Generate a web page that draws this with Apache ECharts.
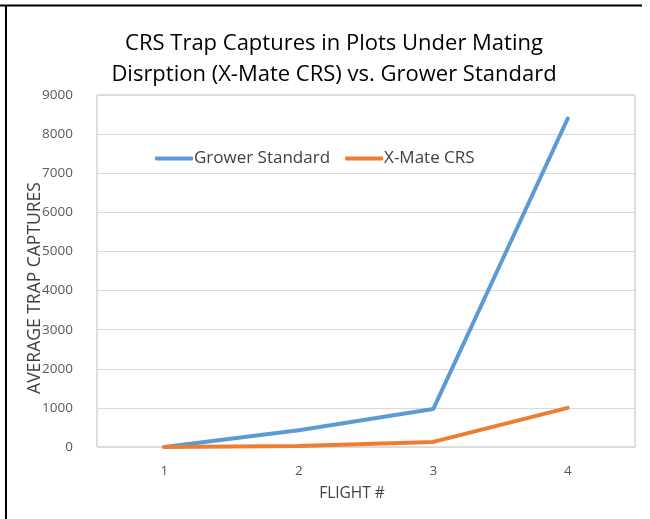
<!DOCTYPE html>
<html>
<head>
<meta charset="utf-8">
<script src="https://cdn.jsdelivr.net/npm/echarts@6/dist/echarts.min.js"></script>
<style>
  html, body { margin: 0; padding: 0; background: #fff; }
  #chart { width: 650px; height: 519px; }
</style>
</head>
<body>
<div id="chart"></div>
<script>
const flights = ["1", "2", "3", "4"];
const growerStandard = [0, 430, 970, 8400];
const xMateCrs = [0, 25, 130, 1000];

const font = "'Open Sans', 'Noto Sans', sans-serif";
const chart = echarts.init(document.getElementById("chart"));

chart.setOption({
  animation: false,
  backgroundColor: "#fff",
  title: {
    text: "CRS Trap Captures in Plots Under Mating\nDisrption (X-Mate CRS) vs. Grower Standard",
    left: 329,
    textAlign: "center",
    top: 23,
    textStyle: {
      fontFamily: font,
      fontSize: 22,
      fontWeight: "normal",
      color: "#000",
      lineHeight: 31
    }
  },
  legend: {
    left: 150,
    top: 145,
    itemWidth: 38,
    itemHeight: 4,
    itemGap: 15,
    icon: "roundRect",
    textStyle: { fontFamily: font, fontSize: 17, color: "#404040", padding: [0, 0, 0, -4] },
    data: ["Grower Standard", "X-Mate CRS"]
  },
  grid: {
    left: 97,
    right: 15,
    top: 95,
    bottom: 72,
    show: true,
    borderColor: "#bfbfbf",
    borderWidth: 1
  },
  xAxis: {
    type: "category",
    data: flights,
    boundaryGap: true,
    axisLine: { show: false },
    axisTick: { show: false },
    axisLabel: { fontFamily: font, fontSize: 13.5, color: "#595959", margin: 17 }
  },
  yAxis: {
    type: "value",
    min: 0,
    max: 9000,
    interval: 1000,
    axisLine: { show: false },
    axisTick: { show: false },
    splitLine: { lineStyle: { color: "#d9d9d9" } },
    axisLabel: { fontFamily: font, fontSize: 13.5, color: "#595959", margin: 24, formatter: (v) => String(v) }
  },
  graphic: [
    { type: "line", shape: { x1: 0, y1: 5.5, x2: 642, y2: 5.5 }, style: { stroke: "#000", lineWidth: 2 } },
    { type: "line", shape: { x1: 6, y1: 5, x2: 6, y2: 519 }, style: { stroke: "#000", lineWidth: 2 } },
    {
      type: "text",
      x: 35, y: 288, rotation: Math.PI / 2,
      style: { text: "AVERAGE TRAP CAPTURES", fontFamily: font, fontSize: 17.5, fill: "#404040", align: "center", verticalAlign: "middle" }
    },
    {
      type: "text",
      x: 352, y: 494,
      style: { text: "FLIGHT #", fontFamily: font, fontSize: 15.5, fill: "#404040", align: "center", verticalAlign: "middle" }
    }
  ],
  series: [
    {
      name: "Grower Standard",
      type: "line",
      data: growerStandard,
      showSymbol: false,
      symbol: "none",
      color: "#5b9bd5",
      lineStyle: { width: 4, color: "#5b9bd5", cap: "round" }
    },
    {
      name: "X-Mate CRS",
      type: "line",
      data: xMateCrs,
      showSymbol: false,
      symbol: "none",
      color: "#ed7d31",
      lineStyle: { width: 4, color: "#ed7d31", cap: "round" }
    }
  ]
});
</script>
</body>
</html>
